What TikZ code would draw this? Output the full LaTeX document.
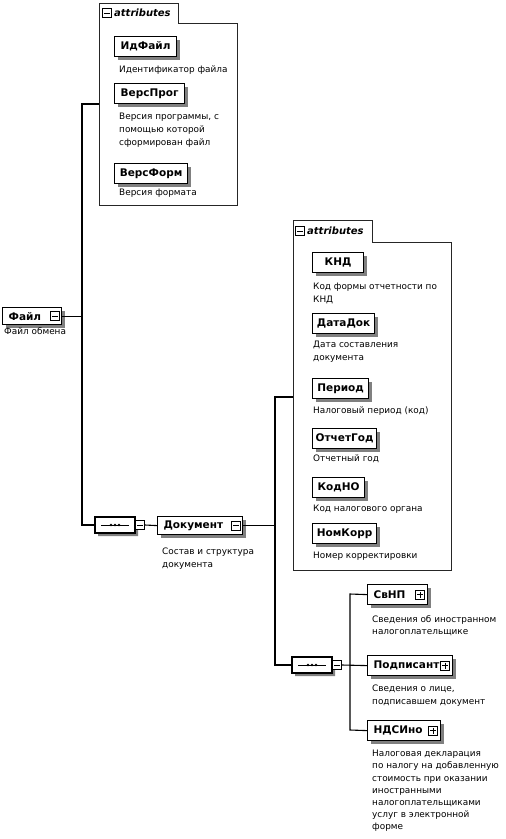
\documentclass[tikz,border=0pt]{standalone}
\usepackage{fontspec}
\setmainfont{DejaVu Sans}
\usetikzlibrary{shadows,shapes.misc}
\newcommand\elfont{\fontsize{10.5}{12}\selectfont\bfseries}
\newcommand\dsfont{\fontsize{8.9}{12.8}\selectfont}
\tikzset{
  conn/.style={line width=1.1pt, black},
  grp/.style={line width=0.9pt, black!85},
  shad/.style={drop shadow={shadow xshift=3pt, shadow yshift=-3pt, fill=black!50, opacity=1}},
  attrel/.style={draw, line width=1.2pt, fill=white, shad, inner sep=0pt, minimum height=20pt, anchor=north west, font=\elfont},
  elbtn/.style={draw, line width=1.2pt, fill=white, shad, inner xsep=6pt, inner ysep=0pt, align=left, anchor=north west, font=\elfont},
  desc/.style={anchor=north west, inner sep=0pt, align=left, font=\dsfont},
  btn/.style={draw, line width=0.8pt, fill=white, minimum size=9pt, inner sep=0pt},
  seqbox/.style={chamfered rectangle, chamfered rectangle xsep=5pt, draw, line width=1.1pt, fill=white, shad, minimum width=40pt, minimum height=16pt, inner sep=0pt},
  tabtxt/.style={anchor=west, inner sep=0pt, font=\fontsize{10}{12}\selectfont\bfseries\itshape},
}
\newcommand\xminus[1]{\draw[line width=0.8pt] ([xshift=2pt]#1.west) -- ([xshift=-2pt]#1.east);}
\newcommand\xplus[1]{\xminus{#1}\draw[line width=0.8pt] ([yshift=-2pt]#1.north) -- ([yshift=2pt]#1.south);}
\begin{document}
\begin{tikzpicture}[x=1pt,y=-1pt]
\useasboundingbox (0,0) rectangle (506,839);

% ---------- attribute group 1
\draw[grp] (99,205) -- (99,3) -- (178,3) -- (178,23) -- (237,23) -- (237,205) -- cycle;
\node[btn] (g1b) at (107,13) {}; \xminus{g1b}
\node[tabtxt] (g1t) at (114,13) {attributes};
\coordinate (g1w) at (99,104);

\node[attrel, minimum width=62pt] (idf) at (114,36) {ИдФайл};
\node[desc] (idfd) at (119,66) {Идентификатор файла};
\node[attrel, minimum width=70pt] (vprog) at (114,83) {ВерсПрог};
\node[desc] (vprogd) at (119,113) {Версия программы, с\\помощью которой\\сформирован файл};
\node[attrel, minimum width=73pt] (vform) at (114,163) {ВерсФорм};
\node[desc] (vformd) at (119,189) {Версия формата};

% ---------- root element
\node[elbtn, text width=47pt, minimum height=17pt] (file) at (2,307) {Файл};
\node[btn] (fileb) at ([xshift=-7.5pt]file.east) {}; \xminus{fileb}
\node[desc] (filed) at (4,327) {Файл обмена};

\coordinate (v1top) at (82,104);
\coordinate (v1bot) at (82,525);

% ---------- sequence 1
\node[seqbox] (seq1) at (115,525) {};
\draw[line width=0.9pt] ([xshift=-14pt]seq1.center) -- ([xshift=14pt]seq1.center);
\foreach \d in {-4,0,4} \fill ([xshift=\d pt]seq1.center) circle (1.4pt);
\node[btn] (seq1b) at (140,525) {}; \xminus{seq1b}

\node[elbtn, text width=73pt, minimum height=18pt] (doc) at (157,516) {Документ};
\node[btn] (docb) at ([xshift=-7.5pt]doc.east) {}; \xminus{docb}
\node[desc] (docd) at (162,548) {Состав и структура\\документа};

\coordinate (v2top) at (275,397);
\coordinate (v2bot) at (275,665);

% ---------- attribute group 2
\draw[grp] (293,570) -- (293,220) -- (372,220) -- (372,242) -- (451,242) -- (451,570) -- cycle;
\node[btn] (g2b) at (300,231) {}; \xminus{g2b}
\node[tabtxt] (g2t) at (307,231) {attributes};
\coordinate (g2w) at (293,397);

\node[attrel, minimum width=51pt] (knd) at (312,252) {КНД};
\node[desc] (kndd) at (313,283) {Код формы отчетности по\\КНД};
\node[attrel, minimum width=62pt] (datadok) at (312,313) {ДатаДок};
\node[desc] (datadokd) at (313,341) {Дата составления\\документа};
\node[attrel, minimum width=56pt] (period) at (312,378) {Период};
\node[desc] (periodd) at (313,407) {Налоговый период (код)};
\node[attrel, minimum width=64pt] (otchgod) at (312,428) {ОтчетГод};
\node[desc] (otchgodd) at (313,455) {Отчетный год};
\node[attrel, minimum width=52pt] (kodno) at (312,477) {КодНО};
\node[desc] (kodnod) at (313,505) {Код налогового органа};
\node[attrel, minimum width=64pt] (nomkorr) at (312,523) {НомКорр};
\node[desc] (nomkorrd) at (313,552) {Номер корректировки};

% ---------- sequence 2
\node[seqbox] (seq2) at (312,665) {};
\draw[line width=0.9pt] ([xshift=-14pt]seq2.center) -- ([xshift=14pt]seq2.center);
\foreach \d in {-4,0,4} \fill ([xshift=\d pt]seq2.center) circle (1.4pt);
\node[btn] (seq2b) at (337,665) {}; \xminus{seq2b}

\coordinate (v3top) at (350,594);
\coordinate (v3bot) at (350,730);

\node[elbtn, text width=48pt, minimum height=20pt] (svnp) at (367,584) {СвНП};
\node[btn] (svnpb) at ([xshift=-8pt]svnp.east) {}; \xplus{svnpb}
\node[desc] (svnpd) at (372,615) {Сведения об иностранном\\налогоплательщике};

\node[elbtn, text width=73pt, minimum height=20pt] (sign) at (367,655) {Подписант};
\node[btn] (signb) at ([xshift=-8pt]sign.east) {}; \xplus{signb}
\node[desc] (signd) at (372,685) {Сведения о лице,\\подписавшем документ};

\node[elbtn, text width=61pt, minimum height=20pt] (nds) at (367,720) {НДСИно};
\node[btn] (ndsb) at ([xshift=-8pt]nds.east) {}; \xplus{ndsb}
\node[desc, font=\fontsize{8.9}{12.2}\selectfont] (ndsd) at (372,750) {Налоговая декларация\\по налогу на добавленную\\стоимость при оказании\\иностранными\\налогоплательщиками\\услуг в электронной\\форме};

% ---------- connectors
\draw[conn] (g1w) -- (v1top) -- (v1bot) -- (seq1.west);
\draw[conn] (file.east) -- (file.east -| v1top);
\draw[conn] (seq1.east) -- (seq1b.west);
\draw[conn] (seq1b.east) -- (doc.west);
\draw[conn] (g2w) -- (v2top) -- (v2bot) -- (seq2.west);
\draw[conn] (doc.east) -- (doc.east -| v2top);
\draw[conn] (seq2.east) -- (seq2b.west);
\draw[conn] (seq2b.east) -- (sign.west);
\draw[conn] (svnp.west) -- (v3top) -- (v3bot) -- (nds.west);
\end{tikzpicture}
\end{document}
